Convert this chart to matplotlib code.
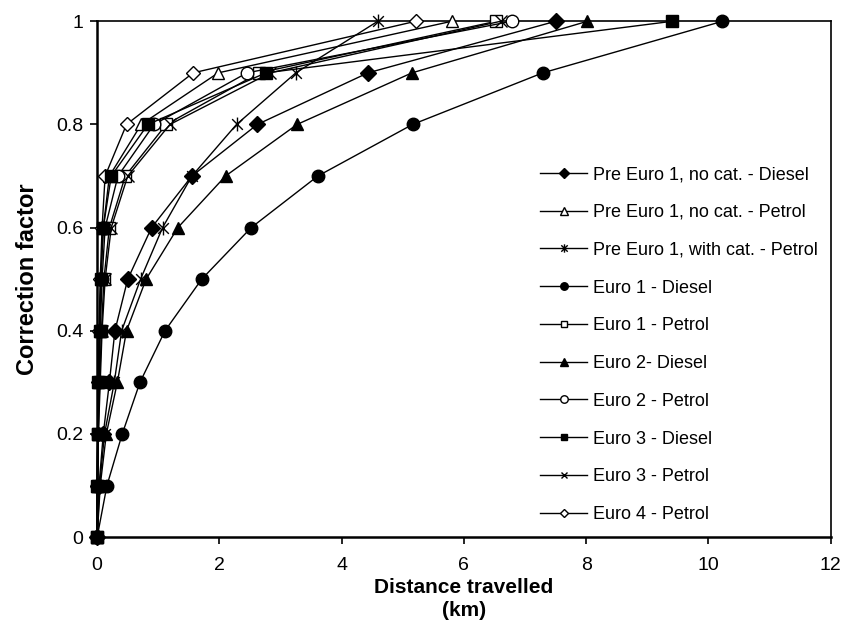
import numpy as np
import matplotlib
matplotlib.use("Agg")
import matplotlib.pyplot as plt
from matplotlib.path import Path
from matplotlib.lines import Line2D

plt.rcParams['font.family'] = ['Liberation Sans', 'DejaVu Sans']

# correction factor levels (y) shared by all series
factor = [0.0, 0.1, 0.2, 0.3, 0.4, 0.5, 0.6, 0.7, 0.8, 0.9, 1.0]

# distance travelled (km) at each factor level
pre_euro1_nocat_diesel = [0, 0.03, 0.10, 0.20, 0.29, 0.50, 0.89, 1.55, 2.62, 4.43, 7.50]
pre_euro1_nocat_petrol = [0, 0.00, 0.01, 0.02, 0.04, 0.06, 0.10, 0.20, 0.72, 1.98, 5.80]
pre_euro1_cat_petrol = [0, 0.04, 0.12, 0.28, 0.40, 0.71, 1.07, 1.55, 2.28, 3.25, 4.59]
euro1_diesel = [0, 0.16, 0.41, 0.70, 1.11, 1.71, 2.52, 3.61, 5.16, 7.29, 10.23]
euro1_petrol = [0, 0.01, 0.02, 0.04, 0.07, 0.11, 0.20, 0.46, 1.13, 2.65, 6.53]
euro2_diesel = [0, 0.05, 0.15, 0.33, 0.48, 0.80, 1.32, 2.10, 3.27, 5.15, 8.02]
euro2_petrol = [0, 0.00, 0.01, 0.03, 0.05, 0.08, 0.13, 0.34, 0.93, 2.45, 6.78]
euro3_diesel = [0, 0.00, 0.01, 0.02, 0.04, 0.06, 0.10, 0.23, 0.83, 2.76, 9.41]
euro3_petrol = [0, 0.01, 0.02, 0.05, 0.08, 0.13, 0.23, 0.50, 1.19, 2.83, 6.60]
euro4_petrol = [0, 0.00, 0.01, 0.02, 0.03, 0.05, 0.08, 0.13, 0.48, 1.57, 5.21]

labels = [
    "Pre Euro 1, no cat. - Diesel",
    "Pre Euro 1, no cat. - Petrol",
    "Pre Euro 1, with cat. - Petrol",
    "Euro 1 - Diesel",
    "Euro 1 - Petrol",
    "Euro 2- Diesel",
    "Euro 2 - Petrol",
    "Euro 3 - Diesel",
    "Euro 3 - Petrol",
    "Euro 4 - Petrol",
]
series = [
    pre_euro1_nocat_diesel, pre_euro1_nocat_petrol, pre_euro1_cat_petrol,
    euro1_diesel, euro1_petrol, euro2_diesel, euro2_petrol,
    euro3_diesel, euro3_petrol, euro4_petrol,
]

# excel style asterisk: an x with a vertical bar through it
star = Path(
    [(-1, -1), (1, 1), (-1, 1), (1, -1), (0, -1.3), (0, 1.3)],
    [Path.MOVETO, Path.LINETO, Path.MOVETO, Path.LINETO, Path.MOVETO, Path.LINETO],
)

# (marker, filled, size)
styles = [
    ("D", True, 8),
    ("^", False, 9),
    (star, False, 10),
    ("o", True, 9),
    ("s", False, 8),
    ("^", True, 9),
    ("o", False, 9),
    ("s", True, 8),
    ("x", False, 8),
    ("D", False, 7),
]

fig = plt.figure(figsize=(8.45, 6.26), dpi=100)
ax = fig.add_axes([0.115, 0.142, 0.868, 0.824])

handles = []
for xs, lab, (mk, filled, ms) in zip(series, labels, styles):
    face = "black" if filled else "white"
    ax.plot(xs, factor, color="black", lw=1.0, marker=mk, markersize=ms,
            markerfacecolor=face, markeredgecolor="black", markeredgewidth=1.0,
            clip_on=False, zorder=4 if filled else 3)
    handles.append(Line2D([], [], color="black", lw=1.0, marker=mk,
                          markersize=ms * 0.6, markerfacecolor=face,
                          markeredgecolor="black", markeredgewidth=1.0, label=lab))

ax.set_xlim(0, 12)
ax.set_ylim(0, 1)
ax.set_xticks(np.arange(0, 13, 2))
ax.set_yticks(np.arange(0, 1.01, 0.2))
ax.set_yticklabels(["0", "0.2", "0.4", "0.6", "0.8", "1"])
ax.tick_params(direction="out", length=5, width=1.2, labelsize=14, pad=5)
ax.tick_params(axis="x", pad=9)

for sp in ax.spines.values():
    sp.set_linewidth(1.2)
ax.spines["left"].set_linewidth(1.8)
ax.spines["bottom"].set_linewidth(1.8)

ax.set_xlabel("Distance travelled\n(km)", fontsize=15, fontweight="bold", labelpad=3,
              linespacing=1.3)
ax.set_ylabel("Correction factor", fontsize=17, fontweight="bold", labelpad=12)

leg = ax.legend(handles=handles, loc="upper left", bbox_to_anchor=(0.594, 0.733),
                frameon=False, fontsize=13, handlelength=2.6, handletextpad=0.33,
                labelspacing=1.15, borderaxespad=0)

fig.savefig("out.png", dpi=100)
